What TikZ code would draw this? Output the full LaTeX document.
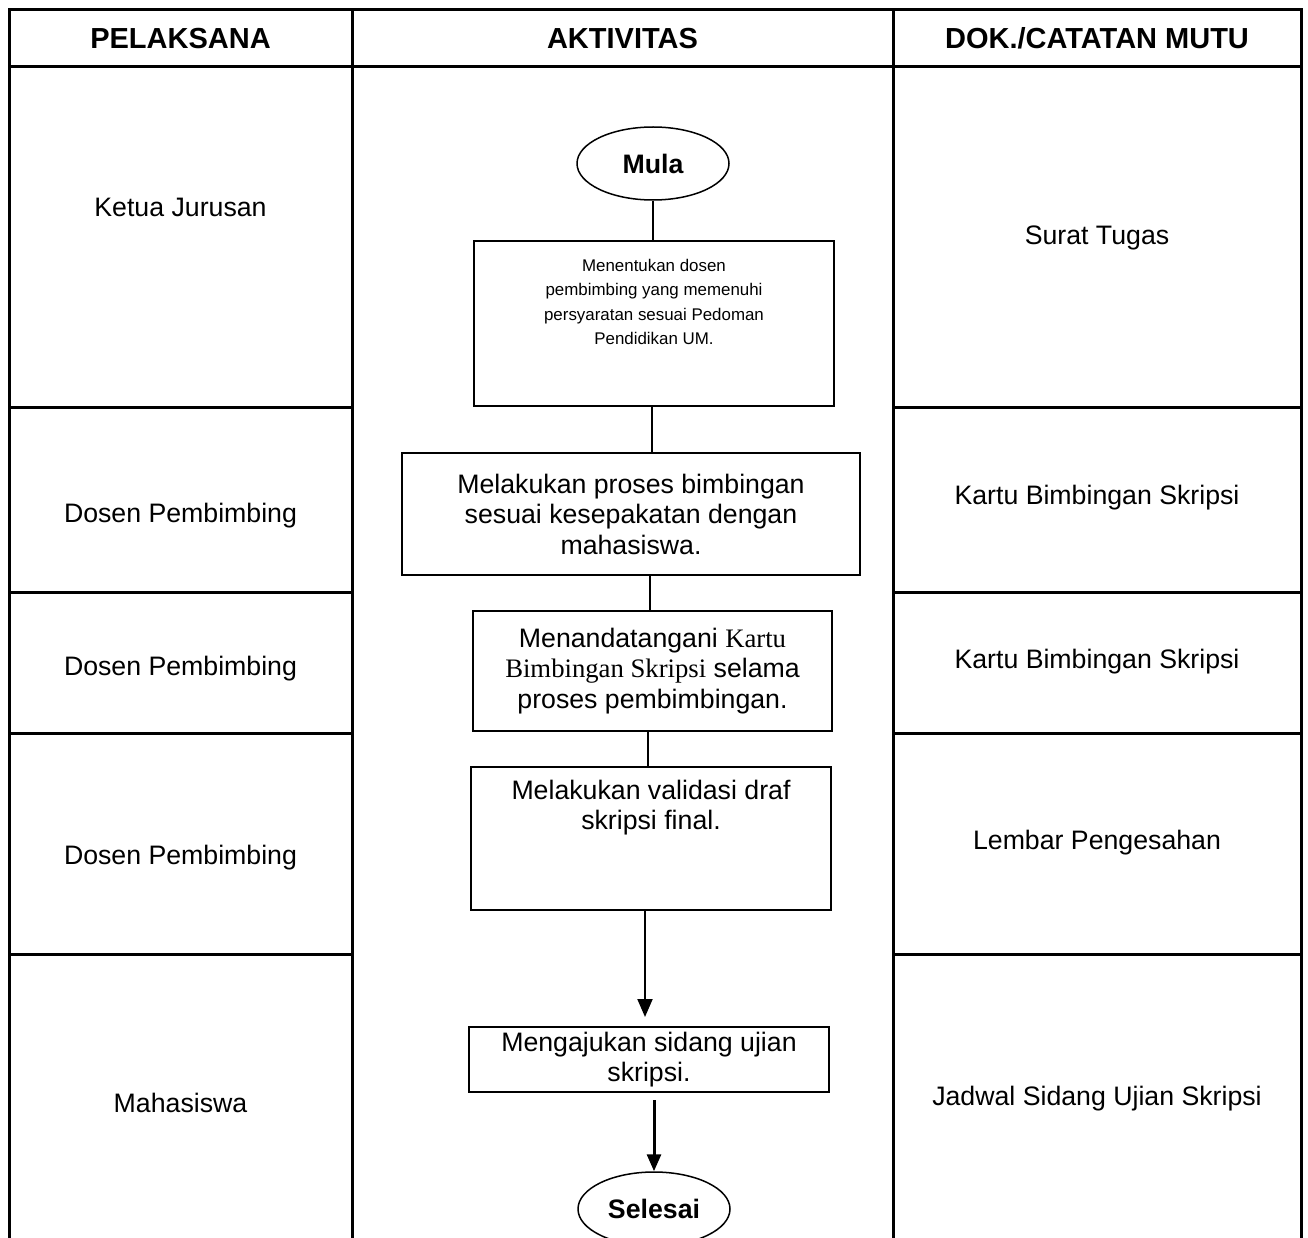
\documentclass[tikz,border=0pt]{standalone}
\usepackage{fontspec}
\setmainfont{Liberation Sans}
\newfontfamily\timesfont{Liberation Serif}
\usetikzlibrary{calc,shapes.geometric,arrows.meta}
\tikzset{
  grid/.style={draw=black, line width=3pt, line join=miter},
  proc/.style={draw=black, line width=2pt, rectangle, inner sep=0pt, align=center,
    font=\fontsize{26.7}{30.5}\selectfont},
  term/.style={draw=black, line width=1.5pt, ellipse, inner sep=0pt,
    minimum width=152pt, minimum height=73pt, font=\fontsize{26.7}{30}\selectfont\bfseries},
  link/.style={draw=black, line width=2pt},
  flow/.style={link, -{Triangle[length=18pt,width=15pt]}},
  head/.style={font=\fontsize{29}{34}\selectfont\bfseries},
  cell/.style={font=\fontsize{26.7}{31}\selectfont},
  boxtxt/.style={font=\fontsize{26.7}{30.5}\selectfont, align=center, inner sep=0pt},
  smalltxt/.style={font=\fontsize{16.9}{24.5}\selectfont, align=center, inner sep=0pt},
}

\begin{document}
\begin{tikzpicture}[x=1pt,y=1pt]
  \clip (0,0) rectangle (1308,-1238);
  % table
  \draw[grid] (9,-1260) -- (9,-10) -- (1301,-10) -- (1301,-1260);
  \draw[grid] (9,-67) -- (1301,-67);
  \draw[grid] (352,-10) -- (352,-1260);
  \draw[grid] (893,-10) -- (893,-1260);
  \foreach \y in {407,592,733,954} {
    \draw[grid] (9,-\y) -- (352,-\y);
    \draw[grid] (893,-\y) -- (1301,-\y);
  }
  \node[head] (hpel) at (180.5,-38.5) {PELAKSANA};
  \node[head] (hakt) at (622.5,-38.5) {AKTIVITAS};
  \node[head] (hdok) at (1097,-38.5) {DOK./CATATAN MUTU};

  % pelaksana
  \node[cell] (p1) at (180.5,-207) {Ketua Jurusan};
  \node[cell] (p2) at (180.5,-516) {Dosen Pembimbing};
  \node[cell] (p3) at (180.5,-669) {Dosen Pembimbing};
  \node[cell] (p4) at (180.5,-858) {Dosen Pembimbing};
  \node[cell] (p5) at (180.5,-1103) {Mahasiswa};

  % dokumen
  \node[cell] (d1) at (1097,-238) {Surat Tugas};
  \node[cell] (d2) at (1097,-498) {Kartu Bimbingan Skripsi};
  \node[cell] (d3) at (1097,-662) {Kartu Bimbingan Skripsi};
  \node[cell] (d4) at (1097,-843) {Lembar Pengesahan};
  \node[cell] (d5) at (1097,-1099) {Jadwal Sidang Ujian Skripsi};

  % aktivitas
  \node[term] (mula) at (653,-163.5) {Mula};
  \node[proc, minimum width=360pt, minimum height=165pt] (b1) at (654,-323.5) {};
  \node[smalltxt, anchor=north] (b1t) at ($(b1.north)+(0,-19)$)
    {Menentukan dosen\\pembimbing yang memenuhi\\persyaratan sesuai Pedoman\\Pendidikan UM.};
  \node[proc, minimum width=458pt, minimum height=122pt] (b2) at (631,-514)
    {Melakukan proses bimbingan\\sesuai kesepakatan dengan\\mahasiswa.};
  \node[proc, minimum width=359pt, minimum height=120pt] (b3) at (652.5,-671)
    {Menandatangani {\timesfont Kartu}\\{\timesfont Bimbingan Skripsi} selama\\proses pembimbingan.};
  \node[proc, minimum width=360pt, minimum height=143pt] (b4) at (651,-838.5) {};
  \node[boxtxt, anchor=north] (b4t) at ($(b4.north)+(0,-13.5)$)
    {Melakukan validasi draf\\skripsi final.};
  \node[proc, minimum width=360pt, minimum height=65pt] (b5) at (649,-1059.5)
    {Mengajukan sidang ujian\\skripsi.};
  \node[term, minimum height=74pt] (selesai) at (654,-1209) {Selesai};

  \draw[link] (mula) -- (mula |- b1.north);
  \draw[link] ([xshift=-2pt]b1.south) -- ([xshift=-2pt]b1.south |- b2.north);
  \draw[link] ([xshift=-2.5pt]b3.north |- b2.south) -- ([xshift=-2.5pt]b3.north);
  \draw[link] ([xshift=-3pt]b4.north |- b3.south) -- ([xshift=-3pt]b4.north);
  \draw[flow, shorten >=9pt] ([xshift=-6pt]b4.south) -- ([xshift=-6pt]b4.south |- b5.north);
  \draw[link, line width=3pt, -{Triangle[length=17pt,width=14pt]}, shorten <=7pt]
    (b5.south -| selesai.north) -- (selesai.north);
\end{tikzpicture}
\end{document}
